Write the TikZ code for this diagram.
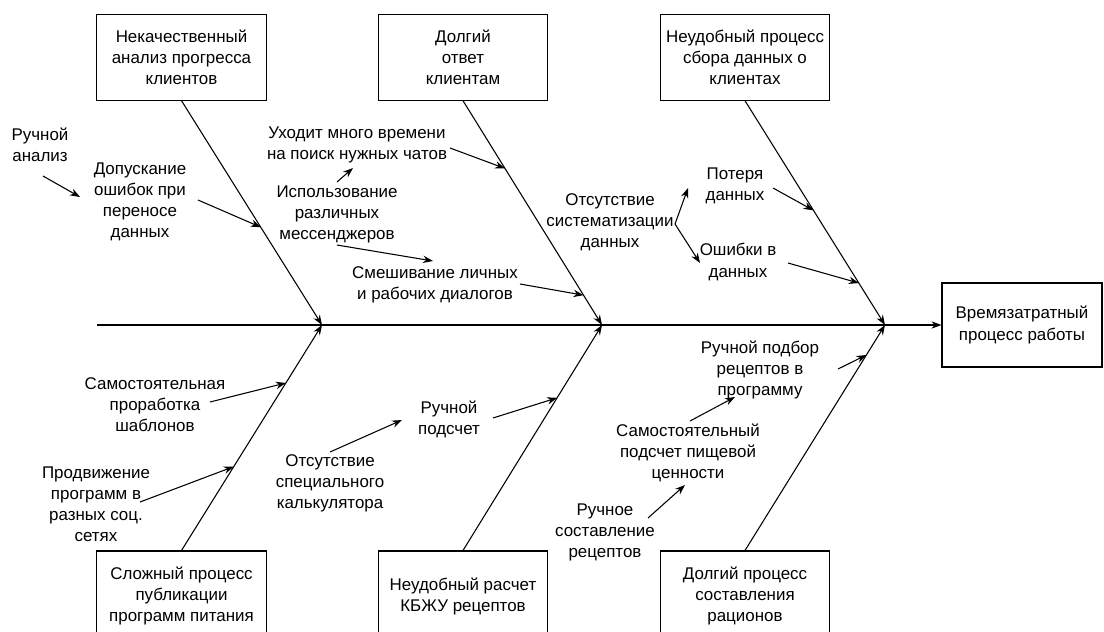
\documentclass[tikz,border=0pt]{standalone}
\usepackage{fontspec}
\setmainfont{Liberation Sans}
\usetikzlibrary{arrows.meta,calc,positioning}

\begin{document}
\begin{tikzpicture}[x=0.75pt,y=-0.75pt,line width=0.8pt]
        \fontsize{12.7pt}{15.8pt}\selectfont
        \tikzstyle{cause} = [rectangle,draw,align=center,minimum width=127pt,minimum height=64pt]
        \tikzstyle{effect} = [rectangle,draw,align=center,minimum width=120pt,minimum height=63pt]
        \tikzstyle{note} = [align=center,inner sep=1pt]
        \tikzstyle{arr} = [-{Stealth[length=7.5pt,width=5.5pt]}]

        \useasboundingbox (0,0) rectangle (1104,632);
        \clip (0,0) rectangle (1104,632);

        % head and spine
        \node[effect] (head) at (1022,325) {Времязатратный\\процесс работы};
        \coordinate (tail) at (97,325);
        \coordinate (j1) at (322,325);
        \coordinate (j2) at (602,325);
        \coordinate (j3) at (885,325);
        \draw[arr] (tail) -- (head.west);

        % upper causes
        \node[cause] (c1) at (181.5,57.5) {Некачественный\\анализ прогресса\\клиентов};
        \node[cause] (c2) at (463,57.5) {Долгий\\ответ\\клиентам};
        \node[cause] (c3) at (745,57.5) {Неудобный процесс\\сбора данных о\\клиентах};
        \draw[arr] (c1.south) -- (j1);
        \draw[arr] (c2.south) -- (j2);
        \draw[arr] (c3.south) -- (j3);

        % lower causes (cut by the page edge)
        \node[cause,minimum height=67.5pt] (c4) at (181.5,596) {Сложный процесс\\публикации\\программ питания};
        \node[cause,minimum height=67.5pt] (c5) at (463,596) {Неудобный расчет\\КБЖУ рецептов};
        \node[cause,minimum height=67.5pt] (c6) at (745,596) {Долгий процесс\\составления\\рационов};
        \draw[arr] (c4.north) -- (j1);
        \draw[arr] (c5.north) -- (j2);
        \draw[arr] (c6.north) -- (j3);

        % sub-causes, bone 1
        \node[note] (manual) at (40,145) {Ручной\\анализ};
        \node[note] (errors) at (140,202) {Допускание\\ошибок при\\переносе\\данных};
        \coordinate (manualS) at (43,176);
        \coordinate (manualE) at (80,197);
        \coordinate (errorsS) at (198,200);
        \draw[arr] (manualS) -- (manualE);
        \draw[arr] (errorsS) -- ($(c1.south)!0.564!(j1)$);

        % sub-causes, bone 2
        \node[note] (chats) at (357,145) {Уходит много времени\\на поиск нужных чатов};
        \node[note] (mess) at (337,214) {Использование\\различных\\мессенджеров};
        \node[note] (mix) at (435,285) {Смешивание личных\\и рабочих диалогов};
        \coordinate (messA) at (337,182);
        \coordinate (messB) at (353,168);
        \coordinate (messC) at (337,245);
        \coordinate (messD) at (433,261);
        \coordinate (chatsS) at (450,148);
        \coordinate (mixS) at (520,284);
        \draw[arr] (messA) -- (messB);
        \draw[arr] (messC) -- (messD);
        \draw[arr] (chatsS) -- ($(c2.south)!0.302!(j2)$);
        \draw[arr] (mixS) -- ($(c2.south)!0.867!(j2)$);

        % sub-causes, bone 3
        \node[note] (system) at (610,222) {Отсутствие\\систематизации\\данных};
        \node[note] (loss) at (735,186) {Потеря\\данных};
        \node[note] (wrong) at (738,262) {Ошибки в\\данных};
        \coordinate (fork) at (675,224);
        \coordinate (lossE) at (688,188);
        \coordinate (wrongE) at (700,263);
        \coordinate (lossS) at (773,188);
        \coordinate (wrongS) at (788,263);
        \draw[arr] (fork) -- (lossE);
        \draw[arr] (fork) -- (wrongE);
        \draw[arr] (lossS) -- ($(c3.south)!0.489!(j3)$);
        \draw[arr] (wrongS) -- ($(c3.south)!0.813!(j3)$);

        % sub-causes, bone 4
        \node[note] (templ) at (155,405) {Самостоятельная\\проработка\\шаблонов};
        \node[note] (promo) at (96,504) {Продвижение\\программ в\\разных соц.\\сетях};
        \coordinate (templS) at (210,402);
        \coordinate (promoS) at (140,502);
        \draw[arr] (templS) -- ($(c4.north)!0.743!(j1)$);
        \draw[arr] (promoS) -- ($(c4.north)!0.372!(j1)$);

        % sub-causes, bone 5
        \node[note] (calc) at (330,483) {Отсутствие\\специального\\калькулятора};
        \node[note] (count) at (449,419) {Ручной\\подсчет};
        \coordinate (calcS) at (330,452);
        \coordinate (calcE) at (402,420);
        \coordinate (countS) at (493,418);
        \draw[arr] (calcS) -- (calcE);
        \draw[arr] (countS) -- ($(c5.north)!0.677!(j2)$);

        % sub-causes, bone 6
        \node[note] (pick) at (760,370) {Ручной подбор\\рецептов в\\программу};
        \node[note] (value) at (688,453) {Самостоятельный\\подсчет пищевой\\ценности};
        \node[note] (recipe) at (605,532) {Ручное\\составление\\рецептов};
        \coordinate (pickS) at (838,369);
        \coordinate (valueS) at (690,421);
        \coordinate (valueE) at (735,397);
        \coordinate (recipeS) at (648,518);
        \coordinate (recipeE) at (685,485);
        \draw[arr] (pickS) -- ($(c6.north)!0.867!(j3)$);
        \draw[arr] (valueS) -- (valueE);
        \draw[arr] (recipeS) -- (recipeE);
\end{tikzpicture}
\end{document}
